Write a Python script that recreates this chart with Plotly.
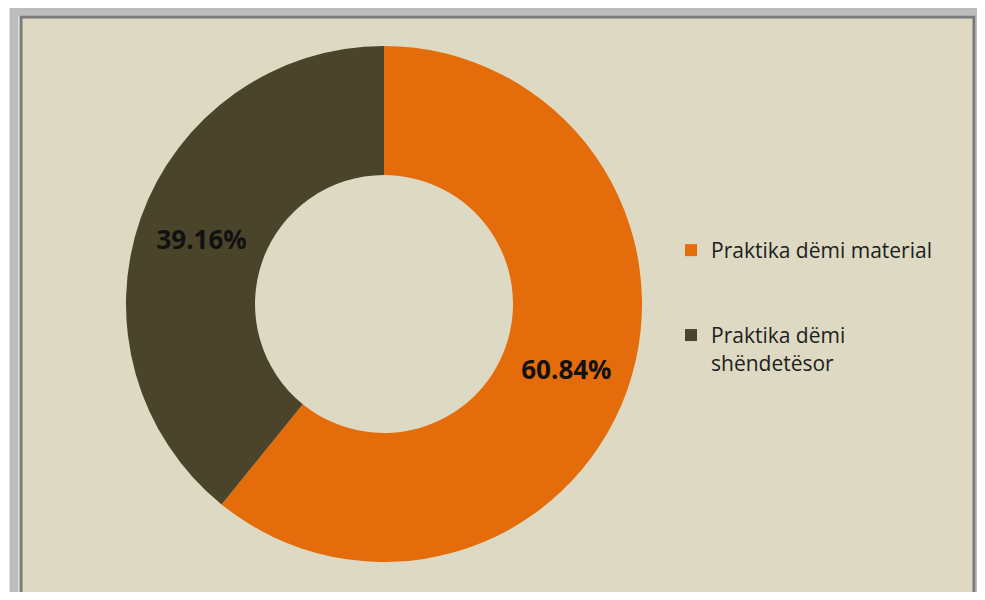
import plotly.graph_objects as go

categories = ["Praktika dëmi material", "Praktika dëmi shëndetësor"]
legend_labels = ["Praktika dëmi material<br> <br> ", "Praktika dëmi<br>shëndetësor"]
values = [60.84, 39.16]
colors = ["#E46C0A", "#4A442A"]

# page body has an 8px margin, so the figure is 16px smaller than the window
W, H = 969, 584

fig = go.Figure()
fig.add_trace(go.Pie(
    labels=legend_labels,
    values=values,
    customdata=categories,
    hole=0.5,
    sort=False,
    direction="clockwise",
    rotation=0,
    marker=dict(colors=colors, line=dict(width=0)),
    texttemplate="%{value:.2f}%",
    textposition="inside",
    insidetextorientation="horizontal",
    textfont=dict(family="Open Sans", size=26, color="#111111", weight="bold"),
    domain=dict(x=[118 / W, 634 / W], y=[30 / H, 546 / H]),
    hovertemplate="%{customdata}: %{value:.2f}%<extra></extra>",
))

shapes = [
    # soft outer shadow
    dict(type="rect", xref="paper", yref="paper",
         x0=6 / W, x1=972 / W, y0=1 - 592 / H, y1=1 - 3 / H,
         line=dict(color="#BDBDBD", width=9), fillcolor="rgba(0,0,0,0)", layer="below"),
    # frame
    dict(type="rect", xref="paper", yref="paper",
         x0=13 / W, x1=966 / W, y0=1 - 588 / H, y1=1 - 9 / H,
         line=dict(color="#7A7A7A", width=3), fillcolor="#DDD9C3", layer="below"),
]

fig.update_layout(
    width=W, height=H,
    margin=dict(l=0, r=0, t=0, b=0),
    paper_bgcolor="#FFFFFF",
    plot_bgcolor="#FFFFFF",
    shapes=shapes,
    showlegend=True,
    legend=dict(
        x=663 / W, y=1 - 222 / H, xanchor="left", yanchor="top",
        font=dict(family="Open Sans", size=21, color="#1E1E1E"),
        bgcolor="rgba(0,0,0,0)",
        valign="top",
    ),
)

fig.write_html("out.html")
